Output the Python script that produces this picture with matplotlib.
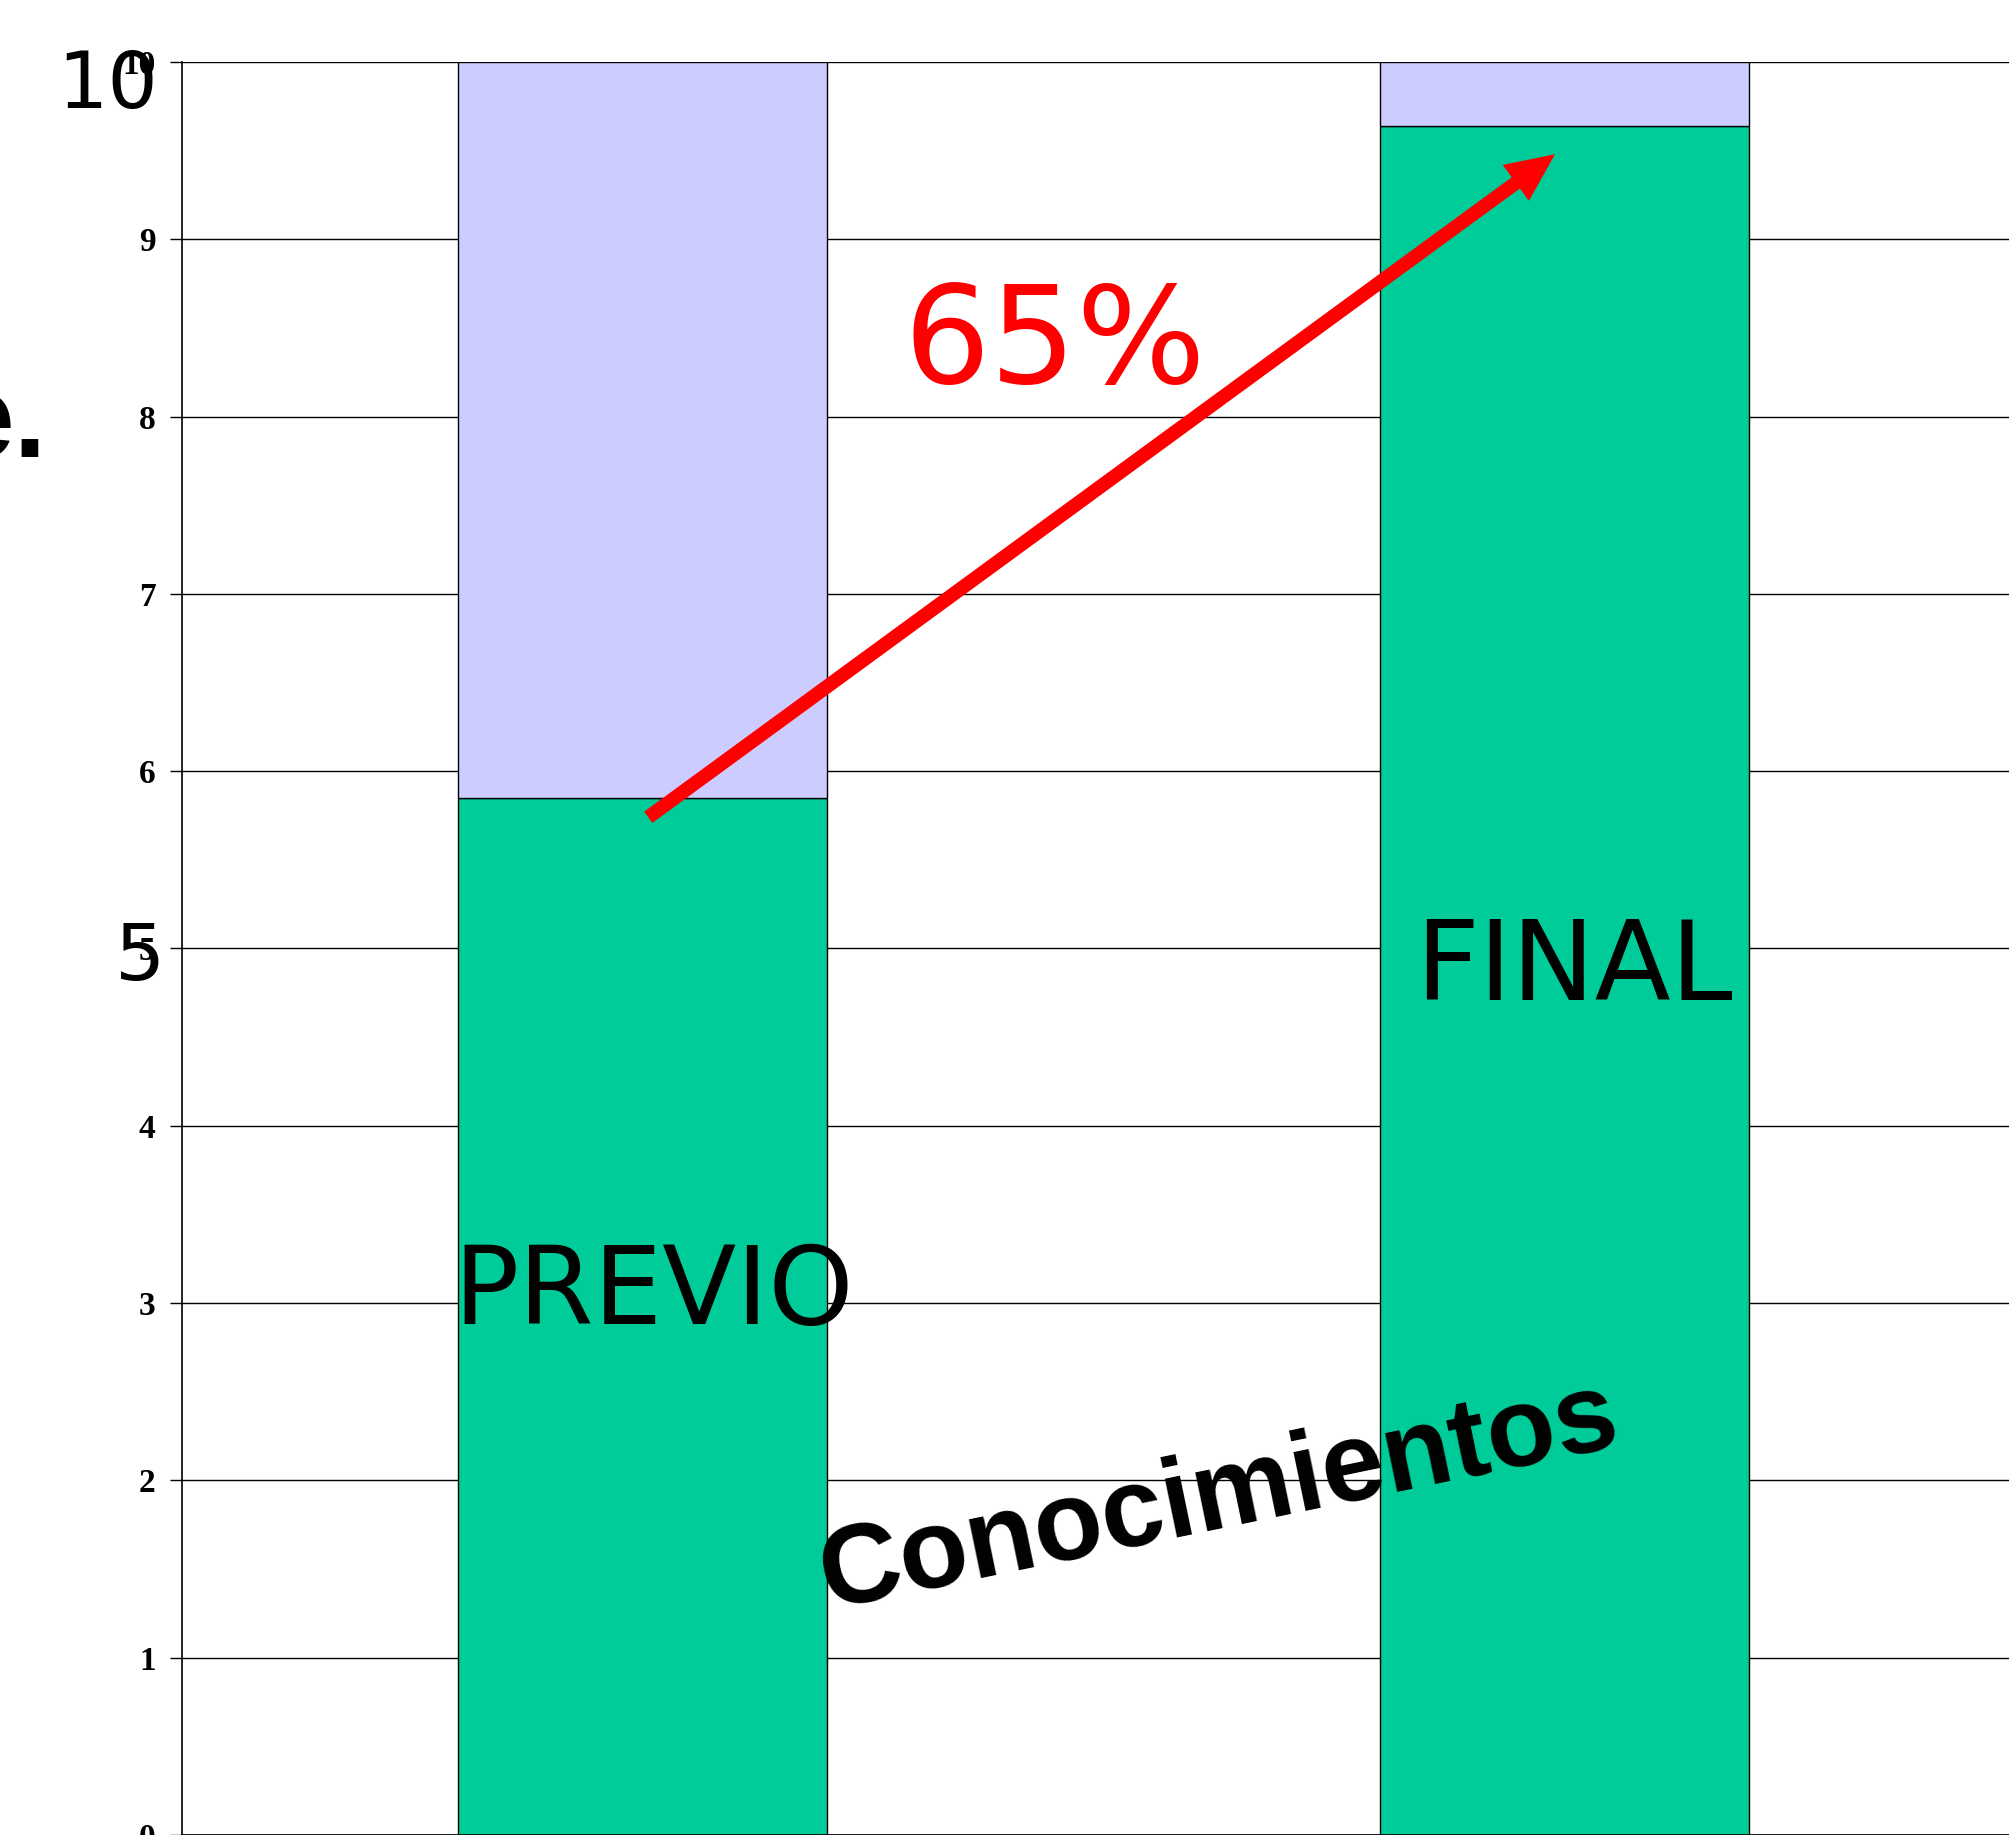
import matplotlib
matplotlib.use("Agg")
import matplotlib.pyplot as plt
from matplotlib import font_manager
import numpy as np

# data
categories = ["PREVIO", "FINAL"]
conocimiento = [5.85, 9.64]   # green part
resto = [4.15, 0.36]          # lilac part up to 10
yticks = list(range(0, 11))
increase_label = "65%"
overlay_ticks = ["10", "5"]

installed = {f.name for f in font_manager.fontManager.ttflist}
if "Liberation Sans Narrow" in installed:
    wa_family, wa_size = "Liberation Sans Narrow", 100
else:
    wa_family, wa_size = "Liberation Sans", 81

W, H = 2009, 1835
fig = plt.figure(figsize=(W / 100, H / 100), dpi=100)
# axes runs off the right edge like the original slide
ax = fig.add_axes([182 / W, 0.0, 1843 / W, 1 - 62 / H])

x = np.arange(len(categories))
ax.bar(x, conocimiento, width=0.4, color="#00CC99", edgecolor="black", linewidth=1.0, zorder=2)
ax.bar(x, resto, width=0.4, bottom=conocimiento, color="#CCCCFF", edgecolor="black", linewidth=1.0, zorder=2)

ax.set_xlim(-0.5, 1.5)
ax.set_ylim(0, 10)
ax.set_yticks(yticks)
ax.set_yticklabels([str(t) for t in yticks], family="Liberation Serif", fontweight="bold", fontsize=24)
ax.tick_params(axis="y", direction="out", length=9, width=1, pad=10)
ax.set_xticks([])
ax.yaxis.grid(True, color="black", linewidth=1.0, zorder=0)
ax.set_axisbelow(True)
for s in ["top", "right"]:
    ax.spines[s].set_visible(False)
ax.spines["left"].set_linewidth(1.2)
ax.spines["bottom"].set_linewidth(1.2)

# category labels sitting inside the bars
ax.text(x[0] + 0.012, 3.05, categories[0], ha="center", va="center", fontsize=78, family="DejaVu Sans", zorder=5)
ax.text(x[1] + 0.01, 4.88, categories[1], ha="center", va="center", fontsize=80, family="DejaVu Sans", zorder=5)

# red arrow with the increase
ax.annotate("", xy=(0.99, 9.48), xytext=(0.006, 5.74),
            arrowprops=dict(arrowstyle="simple,head_length=35,head_width=32,tail_width=10",
                            color="red", lw=0, mutation_scale=1, shrinkA=0, shrinkB=0),
            zorder=6)
ax.text(0.447, 8.40, increase_label, color="red", ha="center", va="center",
        fontsize=98, family="DejaVu Sans", zorder=6)

# word art title
ax.text(0.625, 1.9, "Conocimientos", rotation=11.7, rotation_mode="anchor",
        ha="center", va="center", fontsize=wa_size, fontweight="bold",
        family=[wa_family, "DejaVu Sans"], zorder=7)

# leftovers from the slide overlay
fig.text(108 / W, 1 - 86 / H, overlay_ticks[0], ha="center", va="center", fontsize=57, family="DejaVu Sans")
fig.text(140 / W, 1 - 958 / H, overlay_ticks[1], ha="center", va="center", fontsize=57, family="DejaVu Sans")
fig.text(47 / W, 1 - 457 / H, "e.", ha="right", va="baseline", fontsize=85, fontweight="bold",
         family="Liberation Sans")

fig.savefig("out.png", dpi=100)
